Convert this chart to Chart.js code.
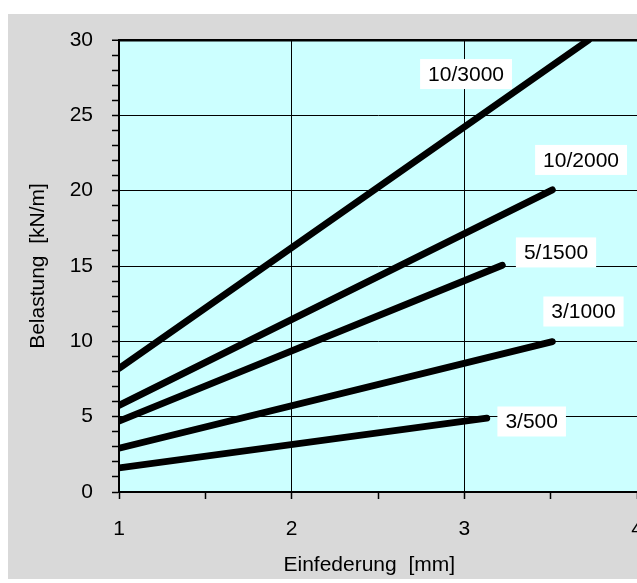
<!DOCTYPE html>
<html>
<head>
<meta charset="utf-8">
<script src="https://cdn.jsdelivr.net/npm/chart.js@4.4.0/dist/chart.umd.min.js"></script>
<style>
  html, body { margin: 0; padding: 0; background: #fff; }
  #wrap { width: 637px; height: 583px; position: relative; }
</style>
</head>
<body>
<div id="wrap"><canvas id="myChart"></canvas></div>
<script>
// series (each drawn as a straight line from x = 1 to its end point)
const seriesNames = ['10/3000', '10/2000', '5/1500', '3/1000', '3/500'];
const xStart = [1, 1, 1, 1, 1];
const yStart = [8.2, 5.75, 4.7, 2.9, 1.6];
const xEnd = [3.72, 3.51, 3.22, 3.51, 3.13];
const yEnd = [30, 20.05, 15.05, 9.98, 4.9];

// where the series name boxes sit, in data units
const labelX = [3.01, 3.676, 3.531, 3.69, 3.39];
const labelY = [27.74, 22.04, 15.9, 11.98, 4.68];

// axes
const xMin = 1, xMax = 4, xMinorStep = 0.5;
const yMin = 0, yMax = 30, yMinorStep = 1, yMajorStep = 5;

const FONT = 'Liberation Sans, Arial, sans-serif';

const datasets = seriesNames.map((name, i) => ({
  label: name,
  data: [{ x: xStart[i], y: yStart[i] }, { x: xEnd[i], y: yEnd[i] }],
  borderColor: '#000',
  borderWidth: 6.8,
  borderCapStyle: 'round',
  pointRadius: 0,
  pointHoverRadius: 0,
  fill: false,
  tension: 0,
  clip: 0
}));

const backgroundPlugin = {
  id: 'bg',
  beforeDraw(chart) {
    const ctx = chart.ctx;
    const a = chart.chartArea;
    ctx.save();
    ctx.fillStyle = '#d9d9d9';
    ctx.fillRect(8, 14, chart.width - 8, 579 - 14);
    ctx.fillStyle = '#ccffff';
    ctx.fillRect(a.left, a.top, a.right - a.left, a.bottom - a.top);
    ctx.restore();
  }
};

const labelPlugin = {
  id: 'seriesLabels',
  afterDatasetsDraw(chart) {
    const ctx = chart.ctx;
    const xs = chart.scales.x, ys = chart.scales.y;
    ctx.save();
    ctx.font = '21px ' + FONT;
    ctx.textAlign = 'center';
    ctx.textBaseline = 'middle';
    seriesNames.forEach((name, i) => {
      const cx = xs.getPixelForValue(labelX[i]);
      const cy = ys.getPixelForValue(labelY[i]);
      const w = ctx.measureText(name).width + 16;
      const h = 30;
      ctx.fillStyle = '#fff';
      ctx.fillRect(cx - w / 2, cy - h / 2, w, h);
      ctx.fillStyle = '#000';
      ctx.fillText(name, cx, cy + 1);
    });
    ctx.restore();
  }
};

const ctx = document.getElementById('myChart').getContext('2d');
new Chart(ctx, {
  type: 'line',
  data: { datasets },
  options: {
    responsive: true,
    maintainAspectRatio: false,
    animation: false,
    layout: { padding: { top: 40, left: 0, right: 0, bottom: 0 } },
    plugins: {
      legend: { display: false },
      tooltip: { enabled: false }
    },
    scales: {
      x: {
        type: 'linear',
        min: xMin,
        max: xMax,
        afterFit(s) { s.height = 91; s.paddingLeft = 0; s.paddingRight = 0; },
        ticks: {
          stepSize: xMinorStep,
          autoSkip: false,
          maxRotation: 0,
          padding: 18,
          color: '#000',
          font: { family: FONT, size: 21 },
          callback: v => (Number.isInteger(v) ? v : '')
        },
        grid: {
          color: c => (Number.isInteger(c.tick.value) && c.tick.value < xMax ? '#000' : 'rgba(0,0,0,0)'),
          tickColor: '#000',
          tickLength: 7,
          lineWidth: 1,
          tickWidth: 1.5
        },
        border: { color: '#000', width: 2 },
        title: {
          display: true,
          text: 'Einfederung  [mm]   ',
          color: '#000',
          font: { family: FONT, size: 21 },
          padding: { top: 0, bottom: 5 }
        }
      },
      y: {
        type: 'linear',
        min: yMin,
        max: yMax,
        afterFit(s) { s.width = 119; s.paddingTop = 0; s.paddingBottom = 0; },
        ticks: {
          stepSize: yMinorStep,
          autoSkip: false,
          padding: 19,
          color: '#000',
          font: { family: FONT, size: 21 },
          callback: v => (v % yMajorStep === 0 ? v : '')
        },
        grid: {
          color: c => (c.tick.value % yMajorStep === 0 ? '#000' : 'rgba(0,0,0,0)'),
          lineWidth: c => (c.tick.value === yMax ? 2.5 : 1),
          tickColor: '#000',
          tickLength: 7,
          tickWidth: 1.5
        },
        border: { color: '#000', width: 2 },
        title: {
          display: true,
          text: 'Belastung  [kN/m]',
          color: '#000',
          font: { family: FONT, size: 21 },
          padding: { top: 26, bottom: 0 }
        }
      }
    }
  },
  plugins: [backgroundPlugin, labelPlugin]
});
</script>
</body>
</html>
